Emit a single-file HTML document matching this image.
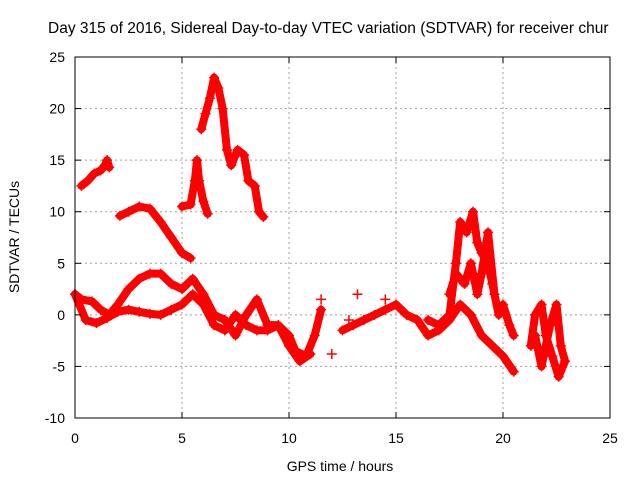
<!DOCTYPE html>
<html><head><meta charset="utf-8"><style>
body{margin:0;background:#fff}
svg text{font-family:"Liberation Sans",sans-serif;font-size:14px;fill:#000}
</style></head><body>
<svg id="chart" width="640" height="480" xmlns="http://www.w3.org/2000/svg">
<rect width="640" height="480" fill="#fff"/>
<text x="48" y="33" style="font-size:15.5px">Day 315 of 2016, Sidereal Day-to-day VTEC variation (SDTVAR) for receiver chur</text>
<g id="grid"></g>
<g id="series"></g>
<g id="axes"></g>
<text x="19" y="237" transform="rotate(-90 19 237)" text-anchor="middle">SDTVAR / TECUs</text>
<text x="340" y="471" text-anchor="middle">GPS time / hours</text>
</svg>
<script>
const xTicks=[0,5,10,15,20,25];
const yTicks=[-10,-5,0,5,10,15,20,25];
const traceA=[[0.3,12.5],[0.6,13],[0.9,13.7],[1.2,14],[1.4,14.5],[1.5,15],[1.6,14.3]];
const traceB=[[2.1,9.6],[2.5,10],[3,10.5],[3.5,10.3],[4,9],[4.5,7.5],[5,6],[5.4,5.5]];
const traceC=[[5.0,10.5],[5.4,10.7],[5.6,13],[5.7,15],[5.8,13],[6,11],[6.2,9.8]];
const traceD=[[5.9,18],[6.1,19.5],[6.3,21],[6.5,23],[6.7,22],[6.9,20],[7.1,16],[7.3,14.5],[7.6,16],[7.9,15.5],[8.1,13],[8.4,12.5],[8.6,10],[8.8,9.5]];
const traceE=[[0,2],[0.3,1.5],[0.8,1.3],[1.2,0.5],[1.6,0],[2,1],[2.5,2.5],[3,3.5],[3.5,4],[4,4],[4.5,3],[5,2.5],[5.5,3.5],[6,2],[6.5,0],[7,-0.5],[7.5,-2],[8,0],[8.5,1.5],[9,-1],[9.5,-1],[10,-2],[10.3,-3.5],[10.8,-4],[11.2,-2],[11.5,0.5]];
const traceF=[[0,2],[0.5,-0.5],[1,-0.8],[1.5,-0.3],[2,0.3],[2.5,0.5],[3,0.3],[3.5,0.1],[4,0],[4.5,0.5],[5,1],[5.5,2],[6,1],[6.5,-1],[7,-1.5],[7.5,0],[8,-1],[8.5,-1.5],[9,-1.5],[9.5,-1],[10,-3],[10.5,-4.5],[11,-3.8]];
const traceG=[[12.5,-1.5],[13,-1],[13.5,-0.5],[14,0],[14.5,0.5],[15,1],[15.5,0],[16,-0.5],[16.5,-2],[17,-1.5],[17.5,-0.5],[18,1],[18.5,0],[19,-2],[19.5,-3],[20,-4],[20.5,-5.5]];
const traceH=[[16.5,-0.5],[17,-1],[17.5,0],[17.8,5],[18,9],[18.3,8],[18.6,10],[18.8,7],[19,6],[19.3,5],[19.5,3],[19.8,0],[20,1],[20.3,-1],[20.5,-2]];
const traceH2=[[17.5,2],[17.8,4],[18.2,3],[18.5,5],[18.8,2],[19,4],[19.3,8],[19.6,2]];
const traceI=[[21.3,-3],[21.5,0],[21.8,1],[22,-2],[22.3,-4],[22.6,-6],[22.9,-4.5],[22.7,-3],[22.5,1],[22.2,-1],[21.8,-5],[21.5,-2]];
const outliers=[[12,-3.8],[13.2,2],[14.5,1.5],[11.5,1.5],[12.8,-0.5]];
const X0=75,X1=610,Y0=418,Y1=57;
const sx=v=>X0+(v-0)/(25-0)*(X1-X0);
const sy=v=>Y0-(v+10)/(35)*(Y0-Y1);
const NS='http://www.w3.org/2000/svg';
function mk(t,a,p){const e=document.createElementNS(NS,t);for(const k in a)e.setAttribute(k,a[k]);p.appendChild(e);return e;}
const grid=document.getElementById('grid'),axes=document.getElementById('axes'),ser=document.getElementById('series');
xTicks.forEach(t=>{const x=sx(t);
 if(t>0&&t<25){const l=mk('line',{x1:x,x2:x,y1:Y1,y2:Y0,stroke:'#a0a0a0','stroke-dasharray':'2,3'},grid);}
 const tx=mk('text',{x:x,y:Y0+25,'text-anchor':'middle'},axes);tx.textContent=t;
 mk('line',{x1:x,x2:x,y1:Y0,y2:Y0-6,stroke:'#000'},axes);mk('line',{x1:x,x2:x,y1:Y1,y2:Y1+6,stroke:'#000'},axes);});
yTicks.forEach(t=>{const y=sy(t);
 if(t>-10&&t<25){const l=mk('line',{x1:X0,x2:X1,y1:y,y2:y,stroke:'#a0a0a0','stroke-dasharray':'2,3'},grid);}
 const tx=mk('text',{x:X0-10,y:y+5,'text-anchor':'end'},axes);tx.textContent=t;
 mk('line',{x1:X0,x2:X0+6,y1:y,y2:y,stroke:'#000'},axes);mk('line',{x1:X1,x2:X1-6,y1:y,y2:y,stroke:'#000'},axes);});
const fr=mk('rect',{x:X0,y:Y1,width:X1-X0,height:Y0-Y1,fill:'none',stroke:'#000'},axes);

[traceA,traceB,traceC,traceD,traceE,traceF,traceG,traceH,traceH2,traceI].forEach(tr=>{
 const pl=mk('polyline',{points:tr.map(p=>sx(p[0])+','+sy(p[1])).join(' '),fill:'none',stroke:'#f00','stroke-width':8,'stroke-linejoin':'round','stroke-linecap':'round'},ser);
 });
[].concat(traceA,traceB,traceC,traceD,traceE,traceF,traceG,traceH,traceH2,traceI,outliers).forEach(p=>{
 const x=sx(p[0]),y=sy(p[1]);
 const m=mk('path',{d:`M${x-5},${y}h10M${x},${y-5}v10`,stroke:'#f00','stroke-width':1.5},ser);
 });
</script>
</body></html>
